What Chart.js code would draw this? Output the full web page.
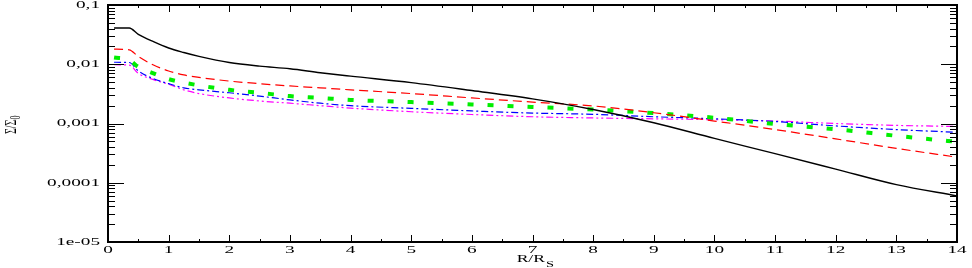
<!DOCTYPE html>
<html>
<head>
<meta charset="utf-8">
<script src="https://cdn.jsdelivr.net/npm/chart.js@4/dist/chart.umd.min.js"></script>
<style>
  html, body { margin: 0; padding: 0; background: #fff; }
  #wrap { width: 972px; height: 268px; }
</style>
</head>
<body>
<div id="wrap"><canvas id="sigma" width="972" height="268"></canvas></div>
<script>
// radius in units of R_S
const radius = [0.1, 0.35, 0.5, 0.75, 1, 1.25, 1.5, 2, 2.5, 3, 3.5, 4, 5, 6, 7, 8, 9, 10, 11, 12, 13, 14];

const blackSolid = [0.041, 0.041, 0.032, 0.024, 0.0188, 0.0158, 0.0136, 0.0107, 0.0093, 0.0084, 0.0072, 0.0063, 0.0049, 0.0036, 0.0026, 0.00172, 0.00103, 0.00056, 0.00031, 0.00017, 0.000093, 0.00006];
const redDashed = [0.018, 0.0175, 0.0135, 0.0097, 0.0077, 0.0066, 0.006, 0.0052, 0.0047, 0.0043, 0.004, 0.0037, 0.0032, 0.0027, 0.0023, 0.00198, 0.00152, 0.0011, 0.00079, 0.00055, 0.00038, 0.00027];
const greenDotted = [0.013, 0.0118, 0.009, 0.007, 0.0056, 0.0049, 0.0044, 0.0037, 0.0033, 0.0029, 0.0027, 0.0025, 0.0023, 0.0021, 0.0019, 0.00172, 0.0015, 0.00125, 0.00098, 0.0008, 0.00062, 0.00049];
const blueDashDot = [0.0108, 0.0107, 0.0077, 0.0057, 0.0047, 0.004, 0.0037, 0.0033, 0.0029, 0.0025, 0.0022, 0.002, 0.0018, 0.00163, 0.0015, 0.00143, 0.0013, 0.0012, 0.00108, 0.00091, 0.00079, 0.00071];
const magentaDashDotDot = [0.0098, 0.0097, 0.007, 0.0055, 0.0046, 0.0037, 0.0032, 0.0027, 0.0024, 0.0022, 0.002, 0.00182, 0.00158, 0.00142, 0.0013, 0.00124, 0.0012, 0.00116, 0.0011, 0.001, 0.00093, 0.00089];

const xTickValues = [0, 1, 2, 3, 4, 5, 6, 7, 8, 9, 10, 11, 12, 13, 14];
const xTickLabels = ['0', '1', '2', '3', '4', '5', '6', '7', '8', '9', '10', '11', '12', '13', '14'];
const yTickValues = [1e-5, 1e-4, 1e-3, 1e-2, 1e-1];
const yTickLabels = ['1e-05', '0,0001', '0,001', '0,01', '0,1'];

function pts(arr) {
    return radius.map((r, i) => ({ x: r, y: arr[i] }));
}

function stretchedText(ctx, text, x, y, align, sx) {
    ctx.save();
    ctx.translate(x, y);
    ctx.scale(sx, 1);
    ctx.textAlign = align;
    ctx.fillText(text, 0, 0);
    ctx.restore();
}

// frame, inward ticks on all four sides, tick labels and axis titles
const framePlugin = {
    id: 'frame',
    afterDraw(chart) {
        const ctx = chart.ctx;
        const a = chart.chartArea;
        const xs = chart.scales.x;
        const ys = chart.scales.y;
        ctx.save();
        ctx.strokeStyle = '#000';
        ctx.fillStyle = '#000';

        // x ticks (majors every 1, minors every 0.5)
        ctx.lineWidth = 1;
        for (let v = 0; v <= 14.001; v += 0.5) {
            const px = Math.round(xs.getPixelForValue(v)) + 0.5;
            const len = Number.isInteger(v) ? 7 : 3;
            ctx.beginPath();
            ctx.moveTo(px, a.bottom); ctx.lineTo(px, a.bottom - len);
            ctx.moveTo(px, a.top); ctx.lineTo(px, a.top + len);
            ctx.stroke();
        }
        // y ticks (decades + 2..9)
        for (let d = -5; d <= -1; d++) {
            for (let m = 1; m <= 9; m++) {
                const v = m * Math.pow(10, d);
                if (v > 0.1 * 1.0001) break;
                const py = Math.round(ys.getPixelForValue(v)) + 0.5;
                const len = m === 1 ? 16 : 7;
                ctx.beginPath();
                ctx.moveTo(a.left, py); ctx.lineTo(a.left + len, py);
                ctx.moveTo(a.right, py); ctx.lineTo(a.right - len, py);
                ctx.stroke();
            }
        }
        // frame
        ctx.lineWidth = 2;
        ctx.strokeRect(a.left, a.top, a.right - a.left, a.bottom - a.top);

        // tick labels
        ctx.font = '11px "Liberation Serif", "Times New Roman", serif';
        ctx.textBaseline = 'middle';
        yTickValues.forEach((v, i) => {
            stretchedText(ctx, yTickLabels[i], a.left - 8, ys.getPixelForValue(v), 'right', 1.75);
        });
        ctx.textBaseline = 'top';
        xTickValues.forEach((v, i) => {
            stretchedText(ctx, xTickLabels[i], xs.getPixelForValue(v), a.bottom + 3, 'center', 1.75);
        });

        // x title: R/R_S
        ctx.textBaseline = 'alphabetic';
        ctx.font = '11px "Liberation Serif", "Times New Roman", serif';
        stretchedText(ctx, 'R/R', 545, 262, 'right', 1.6);
        ctx.font = '9px "Liberation Serif", "Times New Roman", serif';
        stretchedText(ctx, 'S', 546, 267, 'left', 1.6);

        // y title: Σ/Σ0 rotated, stretched horizontally like the rest of the text
        ctx.save();
        ctx.translate(11, 134);
        ctx.scale(1.75, 1);
        ctx.rotate(-Math.PI / 2);
        ctx.font = '10px "Liberation Serif", "Times New Roman", serif';
        ctx.textAlign = 'left';
        ctx.textBaseline = 'middle';
        ctx.fillText('Σ/Σ', 0, 0);
        const w = ctx.measureText('Σ/Σ').width;
        ctx.font = '8px "Liberation Serif", "Times New Roman", serif';
        ctx.fillText('0', w, 3);
        ctx.restore();

        ctx.restore();
    }
};

const chart = new Chart(document.getElementById('sigma').getContext('2d'), {
    type: 'line',
    data: {
        datasets: [
            { label: 'black', data: pts(blackSolid), borderColor: '#000000', borderWidth: 1.4 },
            { label: 'red', data: pts(redDashed), borderColor: '#ff0000', borderWidth: 1.2, borderDash: [9, 5] },
            { label: 'green', data: pts(greenDotted), borderColor: '#00ee00', borderWidth: 4, borderDash: [6, 14] },
            { label: 'blue', data: pts(blueDashDot), borderColor: '#0000ff', borderWidth: 1.2, borderDash: [7, 3, 2, 3] },
            { label: 'magenta', data: pts(magentaDashDotDot), borderColor: '#ff00ff', borderWidth: 1.2, borderDash: [7, 3, 2, 3, 2, 3] }
        ]
    },
    options: {
        responsive: false,
        animation: false,
        layout: { padding: { left: 0, top: 5, right: 15, bottom: 0 } },
        elements: {
            point: { radius: 0 },
            line: { cubicInterpolationMode: 'monotone', fill: false, borderCapStyle: 'butt' }
        },
        plugins: {
            legend: { display: false },
            tooltip: { enabled: false }
        },
        scales: {
            x: {
                type: 'linear',
                min: 0,
                max: 14,
                grid: { display: false },
                border: { display: false },
                ticks: { display: false },
                afterFit(scale) { scale.height = 26; }
            },
            y: {
                type: 'logarithmic',
                min: 1e-5,
                max: 0.1,
                grid: { display: false },
                border: { display: false },
                ticks: { display: false },
                afterFit(scale) { scale.width = 108; }
            }
        }
    },
    plugins: [framePlugin]
});
</script>
</body>
</html>
